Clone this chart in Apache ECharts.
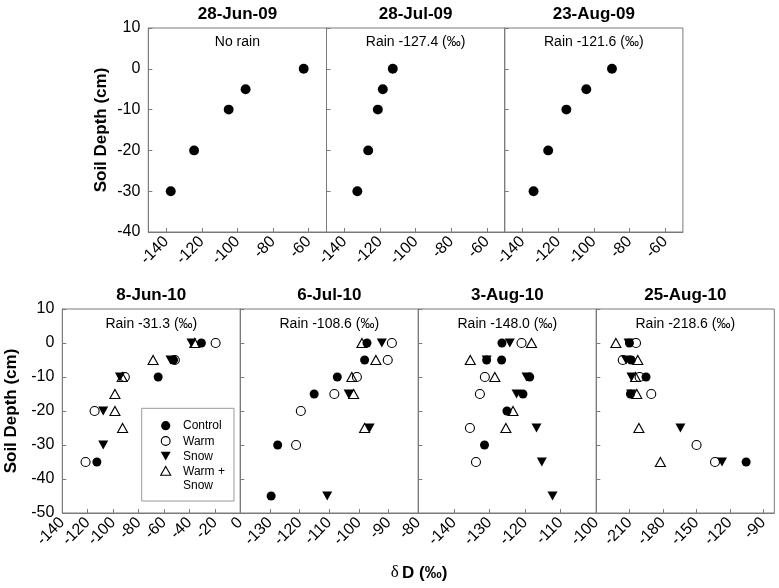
<!DOCTYPE html>
<html><head><meta charset="utf-8">
<script src="https://cdn.jsdelivr.net/npm/echarts@6/dist/echarts.min.js"></script>
<style>html,body{margin:0;padding:0;background:#fff}#c{width:779px;height:588px}</style>
</head><body><div id="c"></div>
<script>
const FONT = '"Liberation Sans", Arial, Helvetica, sans-serif';

// ---------- 2009 profiles (no treatments) ----------
const topTitles = ['28-Jun-09', '28-Jul-09', '23-Aug-09'];
const topRain = ['No rain', 'Rain -127.4 (‰)', 'Rain -121.6 (‰)'];
const topXTicks = [-140, -120, -100, -80, -60];
const jun09 = [[-62.8, 0], [-95.4, -5], [-104.9, -10], [-124.3, -20], [-137.4, -30]];
const jul09 = [[-112.8, 0], [-118.4, -5], [-121.2, -10], [-126.6, -20], [-132.7, -30]];
const aug09 = [[-89.8, 0], [-104.2, -5], [-115.4, -10], [-125.6, -20], [-133.8, -30]];

// ---------- 2010 profiles (four treatments) ----------
const bottomTitles = ['8-Jun-10', '6-Jul-10', '3-Aug-10', '25-Aug-10'];
const bottomRain = ['Rain -31.3 (‰)', 'Rain -108.6 (‰)', 'Rain -148.0 (‰)', 'Rain -218.6 (‰)'];
const treatments = ['Control', 'Warm', 'Snow', 'Warm + Snow'];

const jun10Ticks = [-140, -120, -100, -80, -60, -40, -20, 0];
const jun10Control = [[-30.6, 0], [-52.5, -5], [-64.6, -10], [-112.8, -35]];
const jun10Warm = [[-19.4, 0], [-51.5, -5], [-90.8, -10], [-114.6, -20], [-121.7, -35]];
const jun10Snow = [[-38.4, 0], [-54.9, -5], [-94.7, -10], [-107.8, -20], [-107.8, -30]];
const jun10WarmSnow = [[-35.8, 0], [-68.6, -5], [-92.9, -10], [-98.6, -15], [-98.6, -20], [-92.6, -25]];

const jul10Ticks = [-130, -120, -110, -100, -90, -80];
const jul10Control = [[-97.3, 0], [-98.1, -5], [-107.3, -10], [-115.1, -15], [-127.4, -30], [-129.6, -45]];
const jul10Warm = [[-88.9, 0], [-90.3, -5], [-100.7, -10], [-108.3, -15], [-119.6, -20], [-121.2, -30]];
const jul10Snow = [[-92.3, 0], [-103.5, -15], [-96.4, -25], [-110.7, -45]];
const jul10WarmSnow = [[-99.0, 0], [-94.3, -5], [-102.4, -10], [-101.8, -15], [-98.1, -25]];

const aug3Ticks = [-140, -130, -120, -110, -100];
const aug3Control = [[-126.5, 0], [-130.8, -5], [-126.6, -5], [-118.7, -10], [-120.6, -15], [-125.1, -20], [-131.4, -30]];
const aug3Warm = [[-121.0, 0], [-131.3, -10], [-132.7, -15], [-135.5, -25], [-133.8, -35]];
const aug3Snow = [[-124.3, 0], [-130.8, -5], [-119.6, -10], [-122.4, -15], [-116.8, -25], [-115.3, -35], [-112.3, -45]];
const aug3WarmSnow = [[-118.2, 0], [-135.4, -5], [-128.5, -10], [-123.4, -20], [-125.4, -25]];

const aug25Ticks = [-210, -180, -150, -120, -90];
const aug25Control = [[-210.2, 0], [-208.6, -5], [-195.3, -10], [-209.3, -15], [-105.3, -35]];
const aug25Warm = [[-204.3, 0], [-216.2, -5], [-201.1, -10], [-190.6, -15], [-149.9, -30], [-133.3, -35]];
const aug25Snow = [[-211.0, 0], [-213.2, -5], [-208.4, -10], [-208.7, -15], [-164.4, -25], [-127.0, -35]];
const aug25WarmSnow = [[-222.4, 0], [-202.7, -5], [-204.7, -10], [-203.6, -15], [-201.7, -25], [-182.4, -35]];

// ---------- layout ----------
const AX = '#7a7a7a';
const topLefts = [148.3, 326.5, 504.7], topW = 178.2, topTop = 28, rowH = 204;
const botLefts = [62.3, 240.3, 418.3, 596.3], botW = 178, botTop = 309;

const DOWN = 'path://M0,0L10,0L5,9Z';
const STY = {
  'Control': {symbol: 'circle', symbolSize: 9, itemStyle: {color: '#000', opacity: 1}},
  'Warm': {symbol: 'circle', symbolSize: 9, itemStyle: {color: 'rgba(255,255,255,0)', borderColor: '#000', borderWidth: 1.1, opacity: 1}},
  'Snow': {symbol: DOWN, symbolSize: [10, 9], itemStyle: {color: '#000', opacity: 1}},
  'Warm + Snow': {symbol: 'triangle', symbolSize: [10, 9], itemStyle: {color: 'rgba(255,255,255,0)', borderColor: '#000', borderWidth: 1.1, opacity: 1}}
};

const grids = [], xAxes = [], yAxes = [], series = [], titles = [];

function addPanel(left, width, top, xmin, xmax, ticks, ymin, first, nameGap) {
  const gi = grids.length;
  grids.push({left: left, top: top, width: width, height: rowH, show: true, borderColor: AX, borderWidth: 1, backgroundColor: 'transparent'});
  xAxes.push({
    type: 'value', gridIndex: gi, min: xmin, max: xmax,
    axisLine: {show: true, onZero: false, lineStyle: {color: AX}},
    axisTick: {show: true, inside: true, length: 4, lineStyle: {color: AX}, customValues: ticks},
    axisLabel: {show: true, rotate: 45, margin: 7, fontSize: 16, color: '#000', fontFamily: FONT, customValues: ticks},
    splitLine: {show: false}
  });
  yAxes.push({
    type: 'value', gridIndex: gi, min: ymin, max: 10, interval: 10,
    name: first ? 'Soil Depth (cm)' : '', nameLocation: 'middle', nameGap: nameGap,
    nameTextStyle: {fontSize: 17, fontWeight: 'bold', color: '#000', fontFamily: FONT},
    axisLine: {show: true, onZero: false, lineStyle: {color: AX}},
    axisTick: {show: true, inside: true, length: 4, lineStyle: {color: AX}},
    axisLabel: {show: first, margin: 8, fontSize: 16, color: '#000', fontFamily: FONT},
    splitLine: {show: false}
  });
  return gi;
}

function addSeries(gi, name, data, sizeScale) {
  const s = STY[name];
  const size = Array.isArray(s.symbolSize) ? s.symbolSize.map(v => v * sizeScale) : s.symbolSize * sizeScale;
  series.push({
    type: 'scatter', name: name, xAxisIndex: gi, yAxisIndex: gi,
    symbol: s.symbol, symbolSize: size, itemStyle: s.itemStyle,
    data: data, silent: true, emphasis: {disabled: true}
  });
}

function addTitle(text, cx, top, size, bold) {
  titles.push({text: text, left: cx, top: top, textAlign: 'center', padding: 0,
    textStyle: {fontSize: size, fontWeight: bold ? 'bold' : 'normal', color: '#000', fontFamily: FONT}});
}

// top row
const topData = [jun09, jul09, aug09];
topData.forEach((d, i) => {
  const gi = addPanel(topLefts[i], topW, topTop, -150, -50, topXTicks, -40, i === 0, 38);
  addSeries(gi, 'Control', d, 1.1);
  const cx = topLefts[i] + topW / 2;
  addTitle(topTitles[i], cx, 6, 17, true);
  addTitle(topRain[i], cx, 35, 14, false);
});

// bottom row
const botRanges = [[-140, 0], [-140, -80], [-150, -100], [-240, -80]];
const botTicks = [jun10Ticks, jul10Ticks, aug3Ticks, aug25Ticks];
const botData = [
  {'Control': jun10Control, 'Warm': jun10Warm, 'Snow': jun10Snow, 'Warm + Snow': jun10WarmSnow},
  {'Control': jul10Control, 'Warm': jul10Warm, 'Snow': jul10Snow, 'Warm + Snow': jul10WarmSnow},
  {'Control': aug3Control, 'Warm': aug3Warm, 'Snow': aug3Snow, 'Warm + Snow': aug3WarmSnow},
  {'Control': aug25Control, 'Warm': aug25Warm, 'Snow': aug25Snow, 'Warm + Snow': aug25WarmSnow}
];
const drawOrder = ['Warm + Snow', 'Warm', 'Snow', 'Control'];
botData.forEach((d, i) => {
  const gi = addPanel(botLefts[i], botW, botTop, botRanges[i][0], botRanges[i][1], botTicks[i], -50, i === 0, 42);
  drawOrder.forEach(t => addSeries(gi, t, d[t], 1));
  const cx = botLefts[i] + botW / 2;
  addTitle(bottomTitles[i], cx, 287, 17, true);
  addTitle(bottomRain[i], cx, 317, 14, false);
});

// legend box (drawn in panel "8-Jun-10")
const LX = 165.7, LT = 183, rows = [425.7, 441, 456, 471];
const legendGraphics = [
  {type: 'rect', shape: {x: 141.7, y: 408.3, width: 92.3, height: 92.7}, style: {fill: '#fff', stroke: '#9a9a9a', lineWidth: 1}, z: 50},
  {type: 'circle', shape: {cx: LX, cy: rows[0], r: 4.6}, style: {fill: '#000'}, z: 51},
  {type: 'circle', shape: {cx: LX, cy: rows[1], r: 4.4}, style: {fill: '#fff', stroke: '#000', lineWidth: 1.1}, z: 51},
  {type: 'polygon', shape: {points: [[LX - 5, rows[2] - 4.3], [LX + 5, rows[2] - 4.3], [LX, rows[2] + 4.6]]}, style: {fill: '#000'}, z: 51},
  {type: 'polygon', shape: {points: [[LX, rows[3] - 4.6], [LX + 5, rows[3] + 4.3], [LX - 5, rows[3] + 4.3]]}, style: {fill: '#fff', stroke: '#000', lineWidth: 1.1}, z: 51}
];
treatments.forEach((t, i) => {
  legendGraphics.push({type: 'text', x: LT, y: rows[i] - 7, z: 51,
    style: {text: t === 'Warm + Snow' ? 'Warm +\nSnow' : t, fontSize: 12, lineHeight: 14.5, fontFamily: FONT, fill: '#000', verticalAlign: 'top', align: 'left'}});
});
// x axis title
legendGraphics.push({type: 'text', x: 419, y: 573, z: 51,
  style: {text: '{d|δ} {b|D (‰)}', align: 'center', verticalAlign: 'middle',
    rich: {d: {fontSize: 17, fontFamily: '"Liberation Serif", "DejaVu Serif", serif', fill: '#000'},
           b: {fontSize: 17, fontWeight: 'bold', fontFamily: FONT, fill: '#000'}}}});

const chart = echarts.init(document.getElementById('c'), null, {renderer: 'canvas'});
chart.setOption({
  animation: false,
  backgroundColor: '#fff',
  title: titles,
  grid: grids,
  xAxis: xAxes,
  yAxis: yAxes,
  series: series,
  graphic: legendGraphics
});
</script></body></html>
